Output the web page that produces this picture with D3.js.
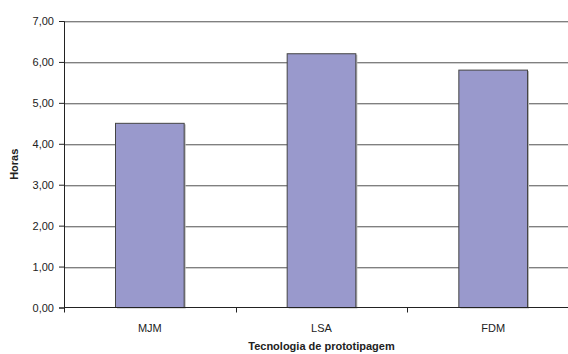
<!DOCTYPE html>
<html>
<head>
<meta charset="utf-8">
<script src="https://cdn.jsdelivr.net/npm/d3@7"></script>
<style>
  body { margin: 0; background: #fff; }
  text { font-family: "Liberation Sans", Arial, sans-serif; fill: #222; }
</style>
</head>
<body>
<svg id="chart" width="568" height="354"></svg>
<script>
var categories = ["MJM", "LSA", "FDM"];
var hours = [4.5, 6.2, 5.8];
var yTicks = [0, 1, 2, 3, 4, 5, 6, 7];

var svg = d3.select("#chart");
var plotLeft = 64, plotTop = 21, plotBottom = 307.5, plotRight = 579;

var x = d3.scaleBand().domain(categories).range([plotLeft, plotRight]).paddingInner(0).paddingOuter(0);
var y = d3.scaleLinear().domain([0, 7]).range([plotBottom, plotTop]);
var fmt = function(v) { return d3.format(".2f")(v).replace(".", ","); };

// gridlines with a light shadow below
svg.append("g").selectAll("line").data(yTicks.slice(1)).enter().append("line")
    .attr("x1", plotLeft).attr("x2", plotRight)
    .attr("y1", function(d) { return Math.round(y(d)) + 1.5; })
    .attr("y2", function(d) { return Math.round(y(d)) + 1.5; })
    .attr("stroke", "#cfcfcf");
svg.append("g").selectAll("line").data(yTicks.slice(1)).enter().append("line")
    .attr("x1", plotLeft).attr("x2", plotRight)
    .attr("y1", function(d) { return Math.round(y(d)) + 0.5; })
    .attr("y2", function(d) { return Math.round(y(d)) + 0.5; })
    .attr("stroke", "#808080");

// bars
var bw = x.bandwidth() * 0.4;
var bars = svg.append("g").selectAll("g").data(hours).enter().append("g");
bars.append("rect")
    .attr("x", function(d, i) { return x(categories[i]) + (x.bandwidth() - bw) / 2 + 1.5; })
    .attr("y", function(d) { return y(d) + 1; })
    .attr("width", bw).attr("height", function(d) { return plotBottom - y(d); })
    .attr("fill", "#b8b8b8");
bars.append("rect")
    .attr("x", function(d, i) { return x(categories[i]) + (x.bandwidth() - bw) / 2; })
    .attr("y", function(d) { return y(d); })
    .attr("width", bw).attr("height", function(d) { return plotBottom - y(d); })
    .attr("fill", "#9999cc").attr("stroke", "#444").attr("stroke-width", 1);

// y axis
var yAxis = d3.axisLeft(y).tickValues(yTicks).tickFormat(fmt).tickSize(5).tickPadding(5);
var gy = svg.append("g").attr("transform", "translate(" + plotLeft + ",0)").call(yAxis);
gy.select(".domain").attr("stroke", "#222");
gy.selectAll(".tick line").attr("stroke", "#222");
gy.selectAll("text").style("font-size", "11px").attr("fill", "#333");

// x axis
var gx = svg.append("g").attr("transform", "translate(0," + plotBottom + ")");
gx.append("line").attr("x1", plotLeft).attr("x2", plotRight).attr("stroke", "#222");
gx.selectAll("line.t").data(categories.concat([null])).enter().append("line")
    .attr("class", "t")
    .attr("x1", function(d, i) { return Math.round(plotLeft + i * x.bandwidth()) + 0.5; })
    .attr("x2", function(d, i) { return Math.round(plotLeft + i * x.bandwidth()) + 0.5; })
    .attr("y1", 0).attr("y2", 5).attr("stroke", "#222");
gx.selectAll("text").data(categories).enter().append("text")
    .attr("x", function(d) { return x(d) + x.bandwidth() / 2; })
    .attr("y", 24).attr("text-anchor", "middle")
    .style("font-size", "11px").attr("fill", "#333")
    .text(function(d) { return d; });

// axis titles
svg.append("text").attr("x", (plotLeft + plotRight) / 2).attr("y", 350)
    .attr("text-anchor", "middle").style("font-size", "11px").style("font-weight", "bold")
    .text("Tecnologia de prototipagem");
svg.append("text").attr("transform", "translate(18," + ((plotTop + plotBottom) / 2) + ") rotate(-90)")
    .attr("text-anchor", "middle").style("font-size", "11px").style("font-weight", "bold")
    .text("Horas");
</script>
</body>
</html>
